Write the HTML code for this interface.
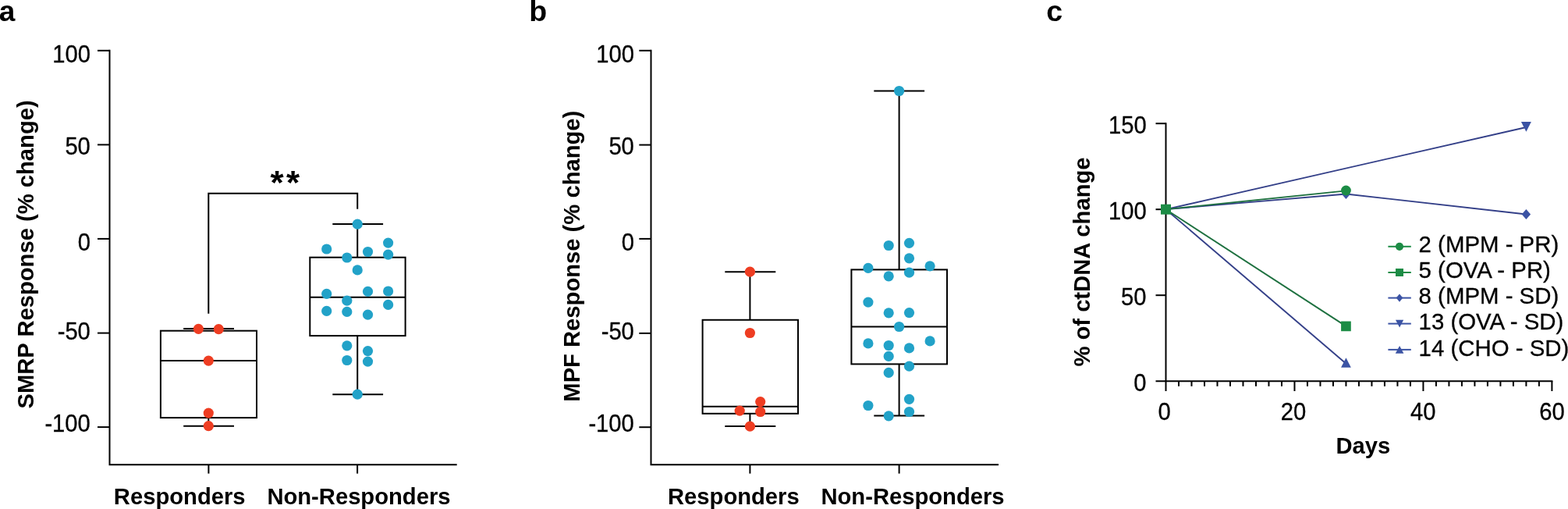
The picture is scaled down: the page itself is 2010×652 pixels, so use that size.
<!DOCTYPE html>
<html lang="en"><head><meta charset="utf-8"><title>Figure</title>
<style>
html,body{margin:0;padding:0;background:#fff}
body{width:2010px;height:652px;overflow:hidden}
svg{display:block}
text{font-family:"Liberation Sans",Arial,Helvetica,sans-serif;fill:#000}
.r{stroke:#000;stroke-width:0.3px}
.ax{stroke:#000;stroke-width:2.0;fill:none;stroke-linecap:butt}
</style></head>
<body>
<svg width="2010" height="652" viewBox="0 0 2010 652">
<rect width="2010" height="652" fill="#fff"/>
<g>
<text id="la" transform="translate(-1.16 27.03) scale(1 1.0)" font-size="37" font-weight="bold">a</text>
<path class="ax" d="M140.5 63.8 V595.2 H585.7"/>
<line class="ax" x1="125" y1="64.8" x2="140.5" y2="64.8"/>
<text id="a100" class="r" transform="translate(67.22 79.55) scale(1 1.05)" font-size="29.2">100</text>
<line class="ax" x1="125" y1="185.4" x2="140.5" y2="185.4"/>
<text id="a50" class="r" transform="translate(83.39 197.72) scale(1 1.05)" font-size="29.2">50</text>
<line class="ax" x1="125" y1="305.9" x2="140.5" y2="305.9"/>
<text id="a0" class="r" transform="translate(99.66 320.69) scale(1 1.05)" font-size="29.2">0</text>
<line class="ax" x1="125" y1="426.6" x2="140.5" y2="426.6"/>
<text id="a-50" class="r" transform="translate(73.66 434.79) scale(1 1.05)" font-size="29.2">-50</text>
<line class="ax" x1="125" y1="547.1" x2="140.5" y2="547.1"/>
<text id="a-100" class="r" transform="translate(57.39 552.65) scale(1 1.05)" font-size="29.2">-100</text>
<line class="ax" x1="267.4" y1="595.2" x2="267.4" y2="606.6"/>
<line class="ax" x1="458.1" y1="595.2" x2="458.1" y2="606.6"/>
<text id="ya" transform="translate(43.4 523.49) rotate(-90) scale(1 1.03)" font-size="29.2" font-weight="bold">SMRP Response (% change)</text>
<text id="aR" transform="translate(145.87 645.9) scale(1 1.03)" font-size="29.2" font-weight="bold">Responders</text>
<text id="aN" transform="translate(342.38 645.9) scale(1 1.03)" font-size="29.2" font-weight="bold">Non-Responders</text>
<line class="ax" x1="267.3" y1="535.1" x2="267.3" y2="545.7"/>
<line class="ax" x1="235.2" y1="421.1" x2="300.0" y2="421.1"/>
<line class="ax" x1="235.2" y1="545.7" x2="300.0" y2="545.7"/>
<rect class="ax" x="205.9" y="423.7" width="123.1" height="111.4"/>
<line class="ax" x1="205.9" y1="462.1" x2="329.0" y2="462.1"/>
<line class="ax" x1="458.2" y1="287.1" x2="458.2" y2="329.7"/>
<line class="ax" x1="458.2" y1="430.1" x2="458.2" y2="505.2"/>
<line class="ax" x1="426.3" y1="287.1" x2="491.1" y2="287.1"/>
<line class="ax" x1="426.3" y1="505.2" x2="491.1" y2="505.2"/>
<rect class="ax" x="397.3" y="329.7" width="122.3" height="100.4"/>
<line class="ax" x1="397.3" y1="380.8" x2="519.6" y2="380.8"/>
<circle cx="254.4" cy="421.4" r="6.6" fill="#ee3d22"/>
<circle cx="280.3" cy="421.7" r="6.6" fill="#ee3d22"/>
<circle cx="267.3" cy="462.1" r="6.6" fill="#ee3d22"/>
<circle cx="267.3" cy="529.1" r="6.6" fill="#ee3d22"/>
<circle cx="267.3" cy="545.7" r="6.6" fill="#ee3d22"/>
<circle cx="458.2" cy="287.1" r="6.6" fill="#22a2c8"/>
<circle cx="418.7" cy="319" r="6.6" fill="#22a2c8"/>
<circle cx="497.6" cy="311.1" r="6.6" fill="#22a2c8"/>
<circle cx="471.5" cy="322.5" r="6.6" fill="#22a2c8"/>
<circle cx="497.6" cy="326.2" r="6.6" fill="#22a2c8"/>
<circle cx="444.8" cy="330" r="6.6" fill="#22a2c8"/>
<circle cx="458.2" cy="345.9" r="6.6" fill="#22a2c8"/>
<circle cx="418.7" cy="376.4" r="6.6" fill="#22a2c8"/>
<circle cx="471.5" cy="373.4" r="6.6" fill="#22a2c8"/>
<circle cx="497.6" cy="373.0" r="6.6" fill="#22a2c8"/>
<circle cx="444.8" cy="385.2" r="6.6" fill="#22a2c8"/>
<circle cx="497.6" cy="390.4" r="6.6" fill="#22a2c8"/>
<circle cx="418.7" cy="398.4" r="6.6" fill="#22a2c8"/>
<circle cx="444.8" cy="399.4" r="6.6" fill="#22a2c8"/>
<circle cx="471.5" cy="403.2" r="6.6" fill="#22a2c8"/>
<circle cx="444.8" cy="442.8" r="6.6" fill="#22a2c8"/>
<circle cx="471.5" cy="449.6" r="6.6" fill="#22a2c8"/>
<circle cx="444.8" cy="461.5" r="6.6" fill="#22a2c8"/>
<circle cx="471.5" cy="463.1" r="6.6" fill="#22a2c8"/>
<circle cx="458.2" cy="505.2" r="6.6" fill="#22a2c8"/>
</g>
<path class="ax" d="M267.3 401.8 V247.8 H458.2 V267.8" stroke-linejoin="miter"/>
<text id="star" transform="translate(346.59 248.44) scale(1 0.977)" font-size="44" font-weight="bold" letter-spacing="3.3">**</text>
<g>
<text id="lb" transform="translate(678.14 27.0) scale(1 0.99)" font-size="37.5" font-weight="bold">b</text>
<path class="ax" d="M834.5 63.8 V595.3 H1280.1"/>
<line class="ax" x1="819.3" y1="64.8" x2="834.5" y2="64.8"/>
<text id="b100" class="r" transform="translate(764.22 79.55) scale(1 1.05)" font-size="29.2">100</text>
<line class="ax" x1="819.3" y1="185.6" x2="834.5" y2="185.6"/>
<text id="b50" class="r" transform="translate(780.39 197.72) scale(1 1.05)" font-size="29.2">50</text>
<line class="ax" x1="819.3" y1="305.9" x2="834.5" y2="305.9"/>
<text id="b0" class="r" transform="translate(796.66 320.69) scale(1 1.05)" font-size="29.2">0</text>
<line class="ax" x1="819.3" y1="426.9" x2="834.5" y2="426.9"/>
<text id="b-50" class="r" transform="translate(770.66 434.79) scale(1 1.05)" font-size="29.2">-50</text>
<line class="ax" x1="819.3" y1="547.2" x2="834.5" y2="547.2"/>
<text id="b-100" class="r" transform="translate(754.39 552.65) scale(1 1.05)" font-size="29.2">-100</text>
<line class="ax" x1="961.4" y1="595.3" x2="961.4" y2="606.6"/>
<line class="ax" x1="1152.6" y1="595.3" x2="1152.6" y2="606.6"/>
<text id="yb" transform="translate(743.2 514.68) rotate(-90) scale(1 1.03)" font-size="29.2" font-weight="bold">MPF Response (% change)</text>
<text id="bR" transform="translate(856.02 645.9) scale(1 1.03)" font-size="29.2" font-weight="bold">Responders</text>
<text id="bN" transform="translate(1052.43 645.9) scale(1 1.03)" font-size="29.2" font-weight="bold">Non-Responders</text>
<line class="ax" x1="961.4" y1="348.2" x2="961.4" y2="409.8"/>
<line class="ax" x1="961.4" y1="529.8" x2="961.4" y2="546.0"/>
<line class="ax" x1="929.3" y1="348.2" x2="994.3" y2="348.2"/>
<line class="ax" x1="929.3" y1="546.0" x2="994.3" y2="546.0"/>
<rect class="ax" x="900.6" y="409.8" width="122.4" height="120.0"/>
<line class="ax" x1="900.6" y1="520.7" x2="1023.0" y2="520.7"/>
<line class="ax" x1="1152.6" y1="116.5" x2="1152.6" y2="345.4"/>
<line class="ax" x1="1152.6" y1="466.4" x2="1152.6" y2="532.6"/>
<line class="ax" x1="1120.3" y1="116.5" x2="1185.1" y2="116.5"/>
<line class="ax" x1="1120.3" y1="532.6" x2="1185.1" y2="532.6"/>
<rect class="ax" x="1091.4" y="345.4" width="122.6" height="121.0"/>
<line class="ax" x1="1091.4" y1="418.5" x2="1214.0" y2="418.5"/>
<circle cx="961.4" cy="348.2" r="6.6" fill="#ee3d22"/>
<circle cx="961.4" cy="426.5" r="6.6" fill="#ee3d22"/>
<circle cx="974.7" cy="514.6" r="6.6" fill="#ee3d22"/>
<circle cx="948.2" cy="526.2" r="6.6" fill="#ee3d22"/>
<circle cx="974.7" cy="527.5" r="6.6" fill="#ee3d22"/>
<circle cx="961.4" cy="546.2" r="6.6" fill="#ee3d22"/>
<circle cx="1152.6" cy="116.5" r="6.6" fill="#22a2c8"/>
<circle cx="1139.2" cy="314.5" r="6.6" fill="#22a2c8"/>
<circle cx="1165.5" cy="311.3" r="6.6" fill="#22a2c8"/>
<circle cx="1165.5" cy="330.8" r="6.6" fill="#22a2c8"/>
<circle cx="1112.9" cy="343.4" r="6.6" fill="#22a2c8"/>
<circle cx="1192.1" cy="340.8" r="6.6" fill="#22a2c8"/>
<circle cx="1165.5" cy="349.2" r="6.6" fill="#22a2c8"/>
<circle cx="1139.2" cy="353.8" r="6.6" fill="#22a2c8"/>
<circle cx="1112.9" cy="387.1" r="6.6" fill="#22a2c8"/>
<circle cx="1139.2" cy="400.8" r="6.6" fill="#22a2c8"/>
<circle cx="1165.5" cy="400.6" r="6.6" fill="#22a2c8"/>
<circle cx="1152.6" cy="418.5" r="6.6" fill="#22a2c8"/>
<circle cx="1112.9" cy="439.9" r="6.6" fill="#22a2c8"/>
<circle cx="1192.1" cy="436.9" r="6.6" fill="#22a2c8"/>
<circle cx="1139.2" cy="442.5" r="6.6" fill="#22a2c8"/>
<circle cx="1165.5" cy="445.9" r="6.6" fill="#22a2c8"/>
<circle cx="1139.2" cy="456.4" r="6.6" fill="#22a2c8"/>
<circle cx="1165.5" cy="469.2" r="6.6" fill="#22a2c8"/>
<circle cx="1139.2" cy="477.4" r="6.6" fill="#22a2c8"/>
<circle cx="1165.5" cy="511.3" r="6.6" fill="#22a2c8"/>
<circle cx="1112.9" cy="519.5" r="6.6" fill="#22a2c8"/>
<circle cx="1165.5" cy="527.5" r="6.6" fill="#22a2c8"/>
<circle cx="1139.2" cy="532.8" r="6.6" fill="#22a2c8"/>
</g>
<g>
<text id="lc" transform="translate(1341.18 27.0) scale(1 0.99)" font-size="37.5" font-weight="bold">c</text>
<line class="ax" x1="1494.5" y1="157.2" x2="1494.5" y2="501.0"/>
<line class="ax" x1="1481.5" y1="488.2" x2="1990.4" y2="488.2"/>
<line class="ax" x1="1481.5" y1="378.2" x2="1494.5" y2="378.2"/>
<line class="ax" x1="1481.5" y1="268.2" x2="1494.5" y2="268.2"/>
<line class="ax" x1="1481.5" y1="158.2" x2="1494.5" y2="158.2"/>
<text id="c0" class="r" transform="translate(1453.36 500.79) scale(1 1.05)" font-size="29.2">0</text>
<text id="c50" class="r" transform="translate(1437.09 390.72) scale(1 1.05)" font-size="29.2">50</text>
<text id="c100" class="r" transform="translate(1420.92 280.65) scale(1 1.05)" font-size="29.2">100</text>
<text id="c150" class="r" transform="translate(1420.92 170.65) scale(1 1.05)" font-size="29.2">150</text>
<line class="ax" x1="1511.0" y1="488.2" x2="1511.0" y2="494.8"/>
<line class="ax" x1="1527.49" y1="488.2" x2="1527.49" y2="494.8"/>
<line class="ax" x1="1543.99" y1="488.2" x2="1543.99" y2="494.8"/>
<line class="ax" x1="1560.49" y1="488.2" x2="1560.49" y2="494.8"/>
<line class="ax" x1="1576.98" y1="488.2" x2="1576.98" y2="494.8"/>
<line class="ax" x1="1593.48" y1="488.2" x2="1593.48" y2="494.8"/>
<line class="ax" x1="1609.98" y1="488.2" x2="1609.98" y2="494.8"/>
<line class="ax" x1="1626.47" y1="488.2" x2="1626.47" y2="494.8"/>
<line class="ax" x1="1642.97" y1="488.2" x2="1642.97" y2="494.8"/>
<line class="ax" x1="1659.47" y1="488.2" x2="1659.47" y2="501.0"/>
<line class="ax" x1="1675.96" y1="488.2" x2="1675.96" y2="494.8"/>
<line class="ax" x1="1692.46" y1="488.2" x2="1692.46" y2="494.8"/>
<line class="ax" x1="1708.96" y1="488.2" x2="1708.96" y2="494.8"/>
<line class="ax" x1="1725.45" y1="488.2" x2="1725.45" y2="494.8"/>
<line class="ax" x1="1741.95" y1="488.2" x2="1741.95" y2="494.8"/>
<line class="ax" x1="1758.45" y1="488.2" x2="1758.45" y2="494.8"/>
<line class="ax" x1="1774.94" y1="488.2" x2="1774.94" y2="494.8"/>
<line class="ax" x1="1791.44" y1="488.2" x2="1791.44" y2="494.8"/>
<line class="ax" x1="1807.94" y1="488.2" x2="1807.94" y2="494.8"/>
<line class="ax" x1="1824.43" y1="488.2" x2="1824.43" y2="501.0"/>
<line class="ax" x1="1840.93" y1="488.2" x2="1840.93" y2="494.8"/>
<line class="ax" x1="1857.43" y1="488.2" x2="1857.43" y2="494.8"/>
<line class="ax" x1="1873.92" y1="488.2" x2="1873.92" y2="494.8"/>
<line class="ax" x1="1890.42" y1="488.2" x2="1890.42" y2="494.8"/>
<line class="ax" x1="1906.91" y1="488.2" x2="1906.91" y2="494.8"/>
<line class="ax" x1="1923.41" y1="488.2" x2="1923.41" y2="494.8"/>
<line class="ax" x1="1939.91" y1="488.2" x2="1939.91" y2="494.8"/>
<line class="ax" x1="1956.4" y1="488.2" x2="1956.4" y2="494.8"/>
<line class="ax" x1="1972.9" y1="488.2" x2="1972.9" y2="494.8"/>
<line class="ax" x1="1989.4" y1="488.2" x2="1989.4" y2="501.0"/>
<text id="cx0" class="r" transform="translate(1484.46 537.89) scale(1 1.05)" font-size="29.2">0</text>
<text id="cx20" class="r" transform="translate(1641.8 537.75) scale(1 1.05)" font-size="29.2">20</text>
<text id="cx40" class="r" transform="translate(1807.98 537.75) scale(1 1.05)" font-size="29.2">40</text>
<text id="cx60" class="r" transform="translate(1973.31 537.78) scale(1 1.05)" font-size="29.2">60</text>
<text id="days" transform="translate(1712.42 580.9) scale(1 1.03)" font-size="29.2" font-weight="bold">Days</text>
<text id="yc" transform="translate(1397.2 469.57) rotate(-90) scale(1 1.03)" font-size="29.2" font-weight="bold">% of ctDNA change</text>
<polyline fill="none" stroke="#333f88" stroke-width="1.85" points="1494.5,268.2 1956.4,163.0"/>
<polyline fill="none" stroke="#333f88" stroke-width="1.85" points="1494.5,268.2 1725.45,248.5 1956.4,274.5"/>
<polyline fill="none" stroke="#333f88" stroke-width="1.85" points="1494.5,268.2 1725.45,465.7"/>
<polyline fill="none" stroke="#1d703f" stroke-width="1.85" points="1494.5,268.2 1725.45,244.3"/>
<polyline fill="none" stroke="#1d703f" stroke-width="1.85" points="1494.5,268.2 1725.45,417.9"/>
<path d="M1949.9 156.0 L1962.9 156.0 L1956.4 168.8Z" fill="#3b53a4"/>
<path d="M1719.75 248.5 L1725.45 241.9 L1731.15 248.5 L1725.45 255.1Z" fill="#3b53a4"/>
<path d="M1950.7 274.5 L1956.4 267.9 L1962.1 274.5 L1956.4 281.1Z" fill="#3b53a4"/>
<path d="M1719.05 470.7 L1731.85 470.7 L1725.45 458.3Z" fill="#3b53a4"/>
<circle cx="1725.45" cy="244.0" r="6.4" fill="#1c8c45"/>
<rect x="1719.1" y="411.55" width="12.7" height="12.7" fill="#1c8c45"/>
<rect x="1488.0" y="261.7" width="13.0" height="13.0" fill="#1c8c45"/>
<line x1="1779.4" x2="1808.8" y1="315.8" y2="315.8" stroke="#1c8c45" stroke-width="2.0"/>
<text id="lg0" class="r" transform="translate(1818.6 322.9) scale(1 1.0)" font-size="29.4">2 (MPM - PR)</text>
<line x1="1779.4" x2="1808.8" y1="349.0" y2="349.0" stroke="#1c8c45" stroke-width="2.0"/>
<text id="lg1" class="r" transform="translate(1818.6 356.2) scale(1 1.0)" font-size="29.4">5 (OVA - PR)</text>
<line x1="1779.4" x2="1808.8" y1="381.6" y2="381.6" stroke="#3b53a4" stroke-width="2.0"/>
<text id="lg2" class="r" transform="translate(1818.6 389.4) scale(1 1.0)" font-size="29.4">8 (MPM - SD)</text>
<line x1="1779.4" x2="1808.8" y1="414.6" y2="414.6" stroke="#3b53a4" stroke-width="2.0"/>
<text id="lg3" class="r" transform="translate(1818.6 422.2) scale(1 1.0)" font-size="29.4">13 (OVA - SD)</text>
<line x1="1779.4" x2="1808.8" y1="447.9" y2="447.9" stroke="#3b53a4" stroke-width="2.0"/>
<text id="lg4" class="r" transform="translate(1818.6 456.3) scale(1 1.0)" font-size="29.4">14 (CHO - SD)</text>
<circle cx="1794" cy="315.8" r="5.1" fill="#1c8c45"/>
<rect x="1789.0" y="344.0" width="10" height="10" fill="#1c8c45"/>
<path d="M1789.7 381.6 L1794 376.5 L1798.3 381.6 L1794 386.7Z" fill="#3b53a4"/>
<path d="M1789.0 409.7 L1799.2 409.7 L1794.1 419.5Z" fill="#3b53a4"/>
<path d="M1788.8 452.8 L1799.4 452.8 L1794.1 443.0Z" fill="#3b53a4"/>
</g>
</svg>
</body></html>
